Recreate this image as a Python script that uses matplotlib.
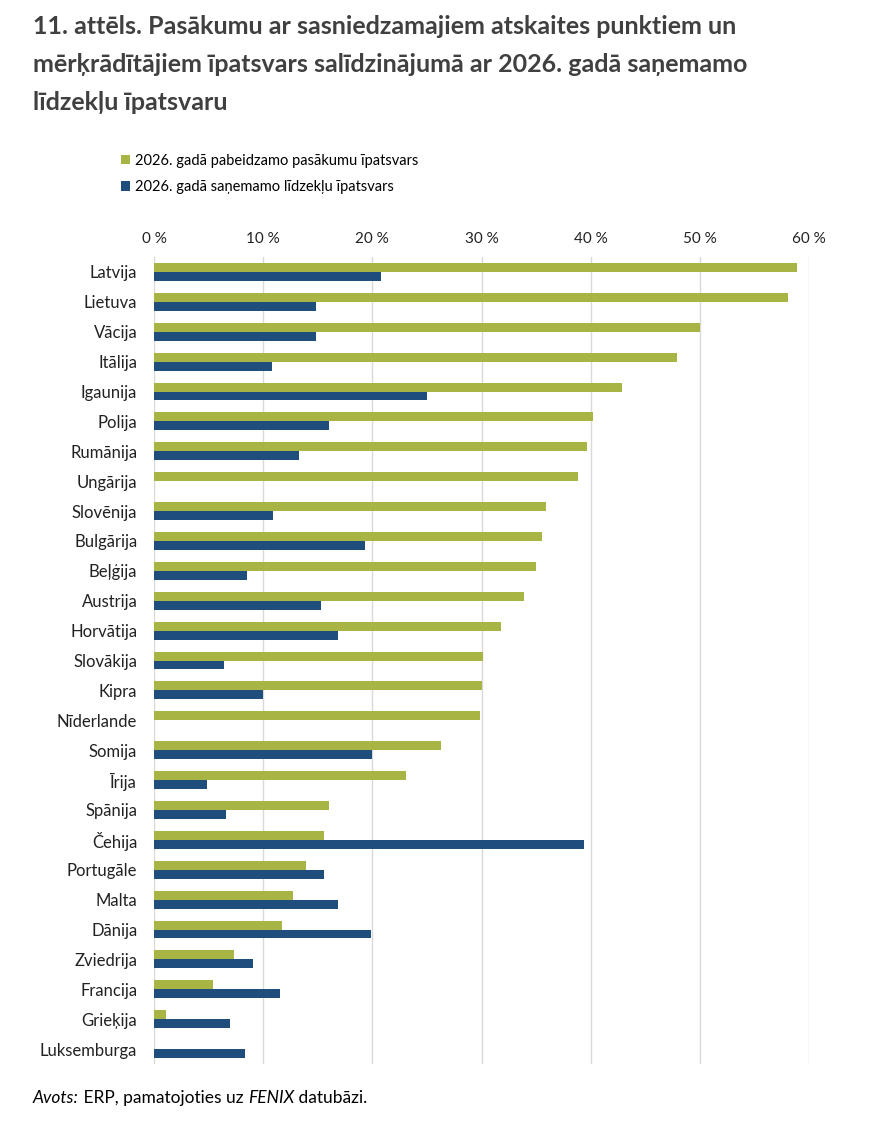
import matplotlib.pyplot as plt
import numpy as np

plt.rcParams['font.family'] = ['Lato', 'DejaVu Sans']

countries = ['Latvija', 'Lietuva', 'Vācija', 'Itālija', 'Igaunija', 'Polija', 'Rumānija',
             'Ungārija', 'Slovēnija', 'Bulgārija', 'Beļģija', 'Austrija', 'Horvātija',
             'Slovākija', 'Kipra', 'Nīderlande', 'Somija', 'Īrija', 'Spānija', 'Čehija',
             'Portugāle', 'Malta', 'Dānija', 'Zviedrija', 'Francija', 'Grieķija', 'Luksemburga']
completed = [58.9, 58.1, 50.0, 47.9, 42.9, 40.2, 39.7, 38.8, 35.9, 35.5, 35.0, 33.9, 31.8,
             30.1, 30.0, 29.9, 26.3, 23.1, 16.0, 15.6, 13.9, 12.7, 11.7, 7.3, 5.4, 1.1, 0.0]
received = [20.8, 14.8, 14.8, 10.8, 25.0, 16.0, 13.3, 0.0, 10.9, 19.3, 8.5, 15.3, 16.9,
            6.4, 10.0, 0.0, 20.0, 4.9, 6.6, 39.4, 15.6, 16.9, 19.9, 9.1, 11.5, 7.0, 8.3]
xticks = [0, 10, 20, 30, 40, 50, 60]

green = '#a8b545'
blue = '#1f4e7d'

fig = plt.figure(figsize=(8.76, 11.3), dpi=100)
ax = fig.add_axes([154/876, 1 - 1064/1130, (809-154)/876, (1064-257)/1130])

y = np.arange(len(countries))
h = 0.3
ax.barh(y - h/2, completed, height=h, color=green, label='2026. gadā pabeidzamo pasākumu īpatsvars', zorder=3)
ax.barh(y + h/2, received, height=h, color=blue, label='2026. gadā saņemamo līdzekļu īpatsvars', zorder=3)

ax.set_xlim(0, 60)
ax.set_ylim(len(countries) - 0.5, -0.5)
ax.set_yticks(y)
ax.set_yticklabels(countries, fontsize=12, color='#222222')
ax.set_xticks(xticks)
ax.set_xticklabels([f'{t} %' for t in xticks], fontsize=11, color='#222222')
ax.xaxis.tick_top()
ax.tick_params(axis='both', length=0)
ax.tick_params(axis='x', pad=8)
ax.tick_params(axis='y', pad=12)
ax.grid(axis='x', color='#d9d9d9', linewidth=1, zorder=0)
for s in ax.spines.values():
    s.set_visible(False)

fig.text(33/876, 1 - 15/1130,
         '11. attēls. Pasākumu ar sasniedzamajiem atskaites punktiem un\n'
         'mērķrādītājiem īpatsvars salīdzinājumā ar 2026. gadā saņemamo\n'
         'līdzekļu īpatsvaru',
         fontsize=18, fontweight='bold', color='#404040', va='top', ha='left',
         linespacing=1.78)

fig.legend(loc='upper left', bbox_to_anchor=(115/876, 1 - 148/1130), frameon=False,
           fontsize=10.5, handlelength=0.6, handleheight=0.6, handletextpad=0.4,
           labelspacing=0.85, borderaxespad=0)

# source line, pieces placed one after another
parts = [('Avots:', 'italic'), (' ERP, pamatojoties uz ', 'normal'),
         ('FENIX', 'italic'), (' datubāzi.', 'normal')]
fig.canvas.draw()
r = fig.canvas.get_renderer()
xpos = 33
for txt, st in parts:
    t = fig.text(xpos/876, 1 - 1098/1130, txt, fontsize=12.5, style=st, va='center', ha='left')
    xpos = t.get_window_extent(renderer=r).x1

fig.savefig('out.png', dpi=100)
